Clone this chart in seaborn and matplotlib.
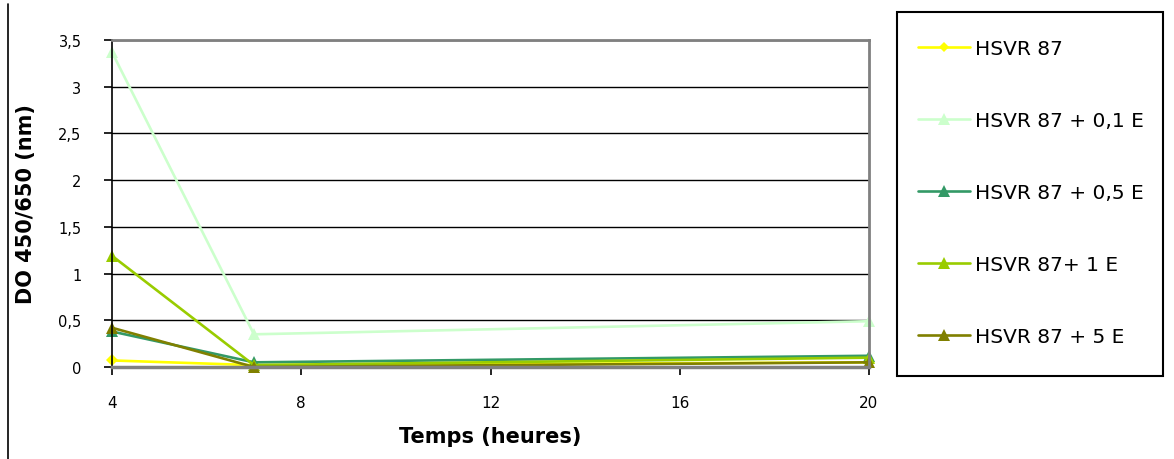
import pandas as pd
import matplotlib.pyplot as plt
import seaborn as sns
from matplotlib.lines import Line2D
from matplotlib.patches import Rectangle

# data
temps = [4, 7, 20]
series = ["HSVR 87", "HSVR 87 + 0,1 E", "HSVR 87 + 0,5 E", "HSVR 87+ 1 E", "HSVR 87 + 5 E"]
do_hsvr = [0.07, 0.02, 0.05]
do_01e = [3.37, 0.35, 0.49]
do_05e = [0.38, 0.05, 0.12]
do_1e = [1.19, 0.02, 0.10]
do_5e = [0.42, 0.00, 0.05]
yticks = [0, 0.5, 1, 1.5, 2, 2.5, 3, 3.5]
ytick_labels = ["0", "0,5", "1", "1,5", "2", "2,5", "3", "3,5"]
xticks = [4, 8, 12, 16, 20]

colors = ["#FFFF00", "#CCFFCC", "#339966", "#99CC00", "#808000"]
markers = ["D", "^", "^", "^", "^"]

rows = []
for name, vals in zip(series, [do_hsvr, do_01e, do_05e, do_1e, do_5e]):
    for t, v in zip(temps, vals):
        rows.append({"Temps": t, "DO": v, "serie": name})
df = pd.DataFrame(rows)

sns.set_style("white")
plt.rcParams["font.family"] = ["DejaVu Sans"]
plt.rcParams.update({"text.color": "black", "axes.labelcolor": "black",
                     "xtick.color": "black", "ytick.color": "black"})

W, H = 1174, 460
fig = plt.figure(figsize=(W / 100, H / 100), dpi=100)
ax = fig.add_axes([112 / W, 1 - 368 / H, (869 - 112) / W, (368 - 41) / H])

sns.lineplot(data=df, x="Temps", y="DO", hue="serie", style="serie",
             hue_order=series, palette=dict(zip(series, colors)),
             markers=dict(zip(series, markers)), dashes=False,
             markersize=8, markeredgewidth=0, linewidth=1.9, ax=ax, legend=False)
for ln in ax.lines:
    ln.set_clip_on(False)
    if ln.get_marker() == "D":
        ln.set_markersize(6.5)

ax.set_xlim(4, 20)
ax.set_ylim(0, 3.5)
ax.set_xticks(xticks)
ax.set_yticks(yticks)
ax.set_yticklabels(ytick_labels)
ax.yaxis.grid(True, color="black", linewidth=1)
ax.xaxis.grid(False)
ax.set_axisbelow(True)

for side in ["top", "right", "bottom"]:
    ax.spines[side].set_color("#808080")
    ax.spines[side].set_linewidth(2)
ax.spines["bottom"].set_linewidth(2.5)
ax.spines["left"].set_color("black")
ax.spines["left"].set_linewidth(1.2)

ax.tick_params(axis="both", direction="out", length=6, width=1.2, color="black",
               labelsize=11, labelcolor="black", left=True, bottom=True)
ax.tick_params(axis="y", pad=16, labelsize=10.5)
ax.tick_params(axis="x", pad=14)
ax.set_xlabel("Temps (heures)", fontsize=15, fontweight="bold", labelpad=12, color="black")
ax.set_ylabel("DO 450/650 (nm)", fontsize=15, fontweight="bold", labelpad=16, color="black")

# legend box drawn as a separate frame
fig.add_artist(Rectangle((897 / W, 1 - 377 / H), (1163 - 897) / W, (377 - 13) / H,
                         transform=fig.transFigure, fill=False, edgecolor="black", linewidth=1.5))
handles = [Line2D([], [], color=c, marker=m, markersize=8 if m == "^" else 5,
                  markeredgewidth=0, linewidth=1.9)
           for c, m in zip(colors, markers)]
leg = fig.legend(handles, series, loc="upper left", bbox_to_anchor=(918 / W, 1 - 40 / H),
                 fontsize=14.5, frameon=False, borderpad=0, borderaxespad=0,
                 labelspacing=2.63, handlelength=2.6, handletextpad=0.25)
for t in leg.get_texts():
    t.set_color("black")

fig.add_artist(Line2D([8 / W, 8 / W], [0, 1 - 5 / H], color="black", linewidth=1.2))

fig.savefig("out.png", dpi=100)
